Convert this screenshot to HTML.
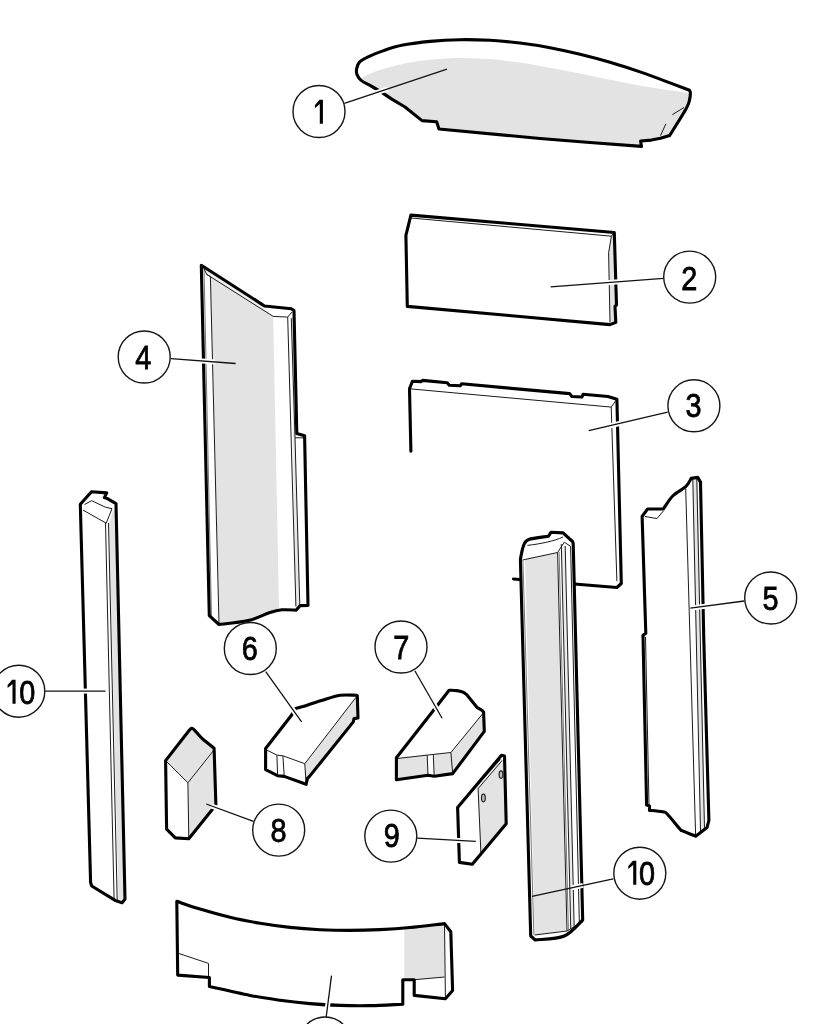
<!DOCTYPE html>
<html><head><meta charset="utf-8">
<style>
html,body{margin:0;padding:0;background:#fff;width:828px;height:1024px;overflow:hidden}
svg{display:block;filter:blur(0.35px)}
.o{fill:#fff;stroke:none}
.on{fill:none;stroke:#000;stroke-width:3.1;stroke-linejoin:round;stroke-linecap:round}
.t{fill:none;stroke:#1a1a1a;stroke-width:1;stroke-linejoin:round}
.tg{fill:none;stroke:#777;stroke-width:1;stroke-linejoin:round}
.g{fill:#e3e3e3;stroke:none}
.c{fill:#fff;stroke:#151515;stroke-width:1.4}
.l{fill:none;stroke:#111;stroke-width:1.3}
.lw{fill:none;stroke:#fff;stroke-width:5;stroke-linecap:butt}
text{font-family:"Liberation Sans",sans-serif;font-size:34px;fill:#000;stroke:#000;stroke-width:0.8}
</style></head>
<body>
<svg width="828" height="1024" viewBox="0 0 828 1024">
<path class="o" d="M376.9,89.3 C375.8,88.7 372.7,86.9 370.1,85.4 C367.5,84 363.6,82.4 361.4,80.6 C359.2,78.8 357.9,76.7 357.1,74.8 C356.3,72.9 356.2,71.1 356.6,69 C357,66.9 357.4,64.3 359.5,62.2 C361.6,60.1 365.2,58.3 369.2,56.4 C373.2,54.5 378,52.5 383.6,50.6 C389.2,48.7 395.3,46.6 403,45.1 C410.7,43.6 420.5,42.3 430,41.4 C439.5,40.5 450,39.9 460,39.7 C470,39.5 480,39.8 490,40.3 C500,40.8 510,41.8 520,43 C530,44.2 540,45.8 550,47.7 C560,49.6 570,51.8 580,54.2 C590,56.6 600,59.3 610,62.3 C620,65.2 630,68.5 640,71.9 C650,75.3 661.8,79.8 670,82.9 C678.2,86 686.2,89.1 689.5,90.3 C689.6,90.8 690.4,91.4 690.4,93 C690.4,94.6 690.2,97.3 689.5,100 C688.8,102.7 689.3,103.1 686,109 C682.7,114.9 672.3,131.2 669.6,135.6 L660.5,138.3 L651.4,140.1 L640.6,141 L641.5,146.4 L590,142.5 L540,138.5 L439,129 L436.6,121.8 L422,120.6 L405,107 L391.4,98.9 L383.6,93.6 L376.9,89.3 Z"/>
<path class="g" d="M363.4,76.7 C365.2,75.9 369,73.7 374,71.9 C379,70.2 385.6,68.1 393.3,66.2 C401,64.3 410.6,62.1 420,60.8 C429.4,59.5 440,58.6 450,58.2 C460,57.8 470,58.1 480,58.6 C490,59.1 500,60.1 510,61.3 C520,62.5 530,64.2 540,65.9 C550,67.6 560,69.6 570,71.6 C580,73.6 590,75.7 600,77.7 C610,79.7 620,81.9 630,83.8 C640,85.7 651,87.6 660,89 C669,90.4 679.2,91.5 684,92.3 C688.8,93.1 688.2,93.7 689,94 L688.6,103 L685,110.2 L669.6,135.6 L660.5,138.3 L651.4,140.1 L640.6,141 L641.5,146.4 L590,142.5 L540,138.5 L439,129 L436.6,121.8 L422,120.6 L405,107 L391.4,98.9 L383.6,93.6 L376.9,89.3 L361.4,80.6 Z"/>
<path class="on" d="M376.9,89.3 C375.8,88.7 372.7,86.9 370.1,85.4 C367.5,84 363.6,82.4 361.4,80.6 C359.2,78.8 357.9,76.7 357.1,74.8 C356.3,72.9 356.2,71.1 356.6,69 C357,66.9 357.4,64.3 359.5,62.2 C361.6,60.1 365.2,58.3 369.2,56.4 C373.2,54.5 378,52.5 383.6,50.6 C389.2,48.7 395.3,46.6 403,45.1 C410.7,43.6 420.5,42.3 430,41.4 C439.5,40.5 450,39.9 460,39.7 C470,39.5 480,39.8 490,40.3 C500,40.8 510,41.8 520,43 C530,44.2 540,45.8 550,47.7 C560,49.6 570,51.8 580,54.2 C590,56.6 600,59.3 610,62.3 C620,65.2 630,68.5 640,71.9 C650,75.3 661.8,79.8 670,82.9 C678.2,86 686.2,89.1 689.5,90.3 C689.6,90.8 690.4,91.4 690.4,93 C690.4,94.6 690.2,97.3 689.5,100 C688.8,102.7 689.3,103.1 686,109 C682.7,114.9 672.3,131.2 669.6,135.6 L660.5,138.3 L651.4,140.1 L640.6,141 L641.5,146.4 L590,142.5 L540,138.5 L439,129 L436.6,121.8 L422,120.6 L405,107 L391.4,98.9 L383.6,93.6 L376.9,89.3 Z"/>
<path class="t" d="M672.3,114.7 L684,107.5 M660.5,135.6 L665.9,123.8"/>
<path class="o" d="M410.9,215.1 L614.3,232.5 L616.5,305 L615,306.4 L615.8,322.4 L610,324.6 L407.3,306.4 L405.9,235.4 Z"/>
<path class="g" d="M611.4,236.2 L614.5,234 L616.5,305 L615,306.4 L615.8,322.4 L610,322.4 L608.6,252.8 Z"/>
<path class="t" d="M411,218 L611.4,236.2 L608.6,252.8 L610,322.4 M611.4,236.2 L614.3,232.5"/>
<path class="on" d="M410.9,215.1 L614.3,232.5 L616.5,305 L615,306.4 L615.8,322.4 L610,324.6 L407.3,306.4 L405.9,235.4 Z"/>
<path class="on" d="M410.9,451.2 L409.5,388.8 L412.4,381.3 L421,381.6 L422.5,380.4 L447.2,382.8 L449.3,385.2 L460.2,385.7 L461.7,383.8 L569.7,393.6 L571.9,396.5 L582,397 L583.1,394.3 L607.9,396.5 L616.9,399.2 L621.3,583.5 L616.9,587.5 L513.5,579"/>
<path class="t" d="M409.5,388.8 L611.2,407.1 L616.9,581.2 M611.2,407.1 L616.9,399.2"/>
<path class="o" d="M201.3,265.2 L261.6,304.1 L264.4,306 L291.3,308.8 L294,310.6 L296.8,433.5 L304.6,435.8 L308,605.5 L300.2,605.6 L296,610.2 C293.7,610.1 286.3,609.4 282,609.8 C277.7,610.2 275.6,610.6 270,612.4 C264.4,614.2 256.8,618.6 248.3,620.6 C239.8,622.6 223.9,623.9 219,624.5 L209.3,615.7 Z"/>
<path fill="#efefef" d="M204,268.5 L262.3,303.7 L263,305.9 L273.2,316.4 L206.6,274.3 Z"/>
<path class="g" d="M210.6,277 L273.2,316.4 L279,609.5 C273.9,611.2 258.2,617.5 248.3,619.8 C238.4,622.1 224.3,622.9 219.5,623.5 Z"/>
<path class="tg" d="M204,268.5 L211.5,618"/>
<path fill="#e8e8e8" d="M291.3,318.2 L293.5,314 L296.8,433.5 L295,437.8 L299.8,605.5 L295.5,608 Z"/>
<path class="t" d="M204,268.5 L206.6,274.3 L273.2,316.4 L287.7,317.1 L292,312 M206.6,274.3 L210.4,276.6 L219,623.6 M287.7,317.1 L295.9,606.4 M295,437.8 L299.8,605.5 M295,437.8 L304,437.8 M291.3,318.2 L295,437.8"/>
<path class="on" d="M201.3,265.2 L261.6,304.1 L264.4,306 L291.3,308.8 L294,310.6 L296.8,433.5 L304.6,435.8 L308,605.5 L300.2,605.6 L296,610.2 C293.7,610.1 286.3,609.4 282,609.8 C277.7,610.2 275.6,610.6 270,612.4 C264.4,614.2 256.8,618.6 248.3,620.6 C239.8,622.6 223.9,623.9 219,624.5 L209.3,615.7 Z"/>
<path class="o" d="M642.1,516.4 L647.6,509 L663.4,509 C665,506.8 669,499.7 672.7,496 C676.4,492.3 682.6,489.6 685.7,486.7 C688.8,483.8 690.3,479.8 691.2,478.4 L697.7,477.4 L700.5,482.1 L703.8,640 L708.9,820.4 L707,827.6 L695.7,836.2 C693.5,835.3 685.2,832 682.6,830.8 C680,829.6 682.5,831.8 679.9,829 C677.3,826.2 670.1,816.9 667.2,814 C664.3,811.1 665.6,812.4 662.6,811.8 C659.6,811.2 651.7,810.6 649.5,810.4 L649.5,805.9 L646.6,805 L643,635.2 L645.8,633.3 Z"/>
<path class="t" d="M644.8,516.4 L656.9,518.6 L663.4,511 M645.5,637 L649,805"/>
<path class="t" d="M685.7,488.6 L695.6,834.8"/>
<path fill="#e6e6e6" d="M692.8,479.5 L697.5,479 L704.5,829 L700.5,831 Z"/>
<path class="t" d="M692.8,479.5 L700.5,831 M696.8,479 L704.5,829"/>
<path class="on" d="M642.1,516.4 L647.6,509 L663.4,509 C665,506.8 669,499.7 672.7,496 C676.4,492.3 682.6,489.6 685.7,486.7 C688.8,483.8 690.3,479.8 691.2,478.4 L697.7,477.4 L700.5,482.1 L703.8,640 L708.9,820.4 L707,827.6 L695.7,836.2 C693.5,835.3 685.2,832 682.6,830.8 C680,829.6 682.5,831.8 679.9,829 C677.3,826.2 670.1,816.9 667.2,814 C664.3,811.1 665.6,812.4 662.6,811.8 C659.6,811.2 651.7,810.6 649.5,810.4 L649.5,805.9 L646.6,805 L643,635.2 L645.8,633.3 Z"/>
<path class="o" d="M80.3,504.3 L91.5,491.7 L106.7,492.9 L104.4,497.6 L107.9,498.8 L116,503.6 L125,899.1 L122.1,902.8 L115.6,900.6 L91.7,886 L90.6,882.5 Z"/>
<path class="g" d="M109.1,523 L114.2,508 L116.5,506 L124.5,899 L118.5,900 Z"/>
<path class="t" d="M83,510.1 L106.2,523.2 L112,508.7 M84.5,504.5 L91.7,500.7 L105.5,507.2 L112,508.7 M105.5,523 L114.1,900 M108.5,523 L117.2,900 M114.5,900 L122,902"/>
<path class="on" d="M80.3,504.3 L91.5,491.7 L106.7,492.9 L104.4,497.6 L107.9,498.8 L116,503.6 L125,899.1 L122.1,902.8 L115.6,900.6 L91.7,886 L90.6,882.5 Z"/>
<path class="o" d="M520.4,559.3  C520.9,557.1 522,549.4 523.4,546.1 C524.8,542.8 524.5,541.1 528.7,539.5 C532.9,537.9 545.2,536.8 548.5,536.2 L551.1,532.2 L563,532.9 L572.5,541.5 L573.2,543.4 L582.7,920 C579.6,922.7 572.2,932.7 564.3,936 C556.4,939.3 540.1,939.3 535.3,940 L530.7,936 Z"/>
<path class="g" d="M525.0,559 L557.6,552.5 L567.0,931 L534.7,935 Z"/>
<path fill="#ececec" d="M561.4,546 L565.2,546 L574.2,928 L570.8,929 Z"/>
<path class="t" d="M522.5,560 L557.6,552.5 L564.3,542.1 L570.9,546.7 M534.7,935 L567.0,931 L583,921.5"/>
<path class="t" d="M557.6,552.5 L567.0,931 M561.3,544 L570.8,929 M565.2,546 L574.2,928 M570.6,547 L579.4,925"/>
<path class="tg" d="M559.1,552 L568.4,930 M522.9,560 L533.9,935"/>
<path class="t" d="M527.4,545.4 C540,544 555,541 563,536.9"/>
<path class="on" d="M520.4,559.3  C520.9,557.1 522,549.4 523.4,546.1 C524.8,542.8 524.5,541.1 528.7,539.5 C532.9,537.9 545.2,536.8 548.5,536.2 L551.1,532.2 L563,532.9 L572.5,541.5 L573.2,543.4 L582.7,920 C579.6,922.7 572.2,932.7 564.3,936 C556.4,939.3 540.1,939.3 535.3,940 L530.7,936 Z"/>
<path class="o" d="M291.5,715.2 L295.5,708.6 L302.8,706.6 C305.9,705.6 315.2,702.5 321.4,700.6 C327.6,698.7 334.1,696.2 340,695.3 C345.9,694.4 353.8,695.3 356.6,695.3 L357.3,695.8 L358,717.9 L354,718.6 L353.3,721.9 L309.5,776.4 L307.5,778.3 L306.1,784.3 L284.2,776.4 L277.6,775.7 L265.6,769.7 L265.6,748.5 Z"/>
<path class="g" d="M304.8,763.7 L356,697.3 L358,717.9 L354,718.6 L353.3,721.9 L309.5,776.4 L307.5,778.3 L306.1,784.3 Z"/>
<path class="t" d="M266.3,749.8 L276.9,755.1 L282.9,755.8 L304.8,763.7 L356,697.3 M276.9,755.1 L277.6,775 M282.9,755.8 L284.2,776 M304.8,763.7 L306.1,784"/>
<path class="on" d="M291.5,715.2 L295.5,708.6 L302.8,706.6 C305.9,705.6 315.2,702.5 321.4,700.6 C327.6,698.7 334.1,696.2 340,695.3 C345.9,694.4 353.8,695.3 356.6,695.3 L357.3,695.8 L358,717.9 L354,718.6 L353.3,721.9 L309.5,776.4 L307.5,778.3 L306.1,784.3 L284.2,776.4 L277.6,775.7 L265.6,769.7 L265.6,748.5 Z"/>
<path class="o" d="M396.4,757.7 L437.7,705 L449.1,690.2 C450.4,690.3 454.4,690.3 456.7,690.6 C459,690.9 461.4,691.5 463,692.2 C464.6,692.9 466,694.2 466.6,694.6 L477.1,707.5 C477.9,708 480.7,709.5 481.8,710.2 C482.9,711 483.3,711.7 483.6,712 L484.3,731.4 L452.7,773.6 L434.2,776.2 L428,775.3 L396.4,779.7 Z"/>
<path class="g" d="M396.4,758.6 L427.2,755.1 L428,775.3 L396.4,779.7 Z M433.3,755.1 L450.9,752.5 L452.7,773.6 L434.2,776.2 Z M450.9,752.5 L482.6,713.8 L484.3,731.4 L452.7,773.6 Z"/>
<path class="t" d="M396.4,758.6 L427.2,755.1 L450.9,752.5 L482.6,713.8 M427.2,755.1 L428,775.3 M433.3,755.1 L434.2,776.2 M450.9,752.5 L452.7,773.6"/>
<path class="on" d="M396.4,757.7 L437.7,705 L449.1,690.2 C450.4,690.3 454.4,690.3 456.7,690.6 C459,690.9 461.4,691.5 463,692.2 C464.6,692.9 466,694.2 466.6,694.6 L477.1,707.5 C477.9,708 480.7,709.5 481.8,710.2 C482.9,711 483.3,711.7 483.6,712 L484.3,731.4 L452.7,773.6 L434.2,776.2 L428,775.3 L396.4,779.7 Z"/>
<path class="o" d="M165.6,760.6 L189.3,730.2 C189.7,729.9 190.7,728.5 191.5,728.4 C192.3,728.3 192.2,727.9 194,729.6 C195.8,731.3 200,736.4 202.3,738.6 C204.6,740.8 205.6,741.4 207.6,743 C209.6,744.6 213,747.4 214.1,748.3 L215.9,805 L188.8,838.8 L175.3,837.9 L166.6,829.2 Z"/>
<path class="g" d="M165.6,760.6 L191.5,728.4 L202.3,738.6 L207.6,743 L214.1,748.3 L187.9,782.8 Z M187.9,782.8 L213.9,750 L215.9,805 L188.8,838.8 Z"/>
<path class="t" d="M166.6,761.5 L187.9,782.8 L213.9,750 M187.9,782.8 L188.8,837.9"/>
<path class="on" d="M165.6,760.6 L189.3,730.2 C189.7,729.9 190.7,728.5 191.5,728.4 C192.3,728.3 192.2,727.9 194,729.6 C195.8,731.3 200,736.4 202.3,738.6 C204.6,740.8 205.6,741.4 207.6,743 C209.6,744.6 213,747.4 214.1,748.3 L215.9,805 L188.8,838.8 L175.3,837.9 L166.6,829.2 Z"/>
<path class="o" d="M457.6,807.4 L501.5,755.3 L504.5,755.9 L506.2,823.8 L472.3,864.2 L459.4,862.4 Z"/>
<path fill="#ececec" d="M466,797.5 L501.5,755.3 L503,757 L502.1,760.5 L478.1,788.7 L473.4,789.8 Z"/>
<path class="g" d="M478.1,788.7 L502.1,760.5 L505,757 L506.2,823.8 L481,855.4 Z"/>
<path class="t" d="M473.4,789.8 L500.4,759.4 M478.1,788.7 L502.1,760.5 M478.1,788.7 L481,855.4"/>
<ellipse cx="483.4" cy="798" rx="1.9" ry="3.8" fill="#bdbdbd" stroke="#222" stroke-width="1.2"/>
<ellipse cx="501" cy="774.6" rx="1.9" ry="3.8" fill="#bdbdbd" stroke="#222" stroke-width="1.2"/>
<path class="on" d="M457.6,807.4 L501.5,755.3 L504.5,755.9 L506.2,823.8 L472.3,864.2 L459.4,862.4 Z"/>
<path class="o" d="M176.8,901.3 C180.7,902.6 191.1,906.4 200,909.1 C208.9,911.8 220,914.9 230,917.3 C240,919.7 250,921.6 260,923.3 C270,925 280,926.3 290,927.4 C300,928.5 310,929.2 320,929.7 C330,930.2 340,930.4 350,930.4 C360,930.4 370,930.1 380,929.6 C390,929.1 399.2,928.5 410,927.5 C420.8,926.5 438.8,924.2 444.5,923.6 L450.8,931.7 L452.6,990.5 L445.4,998.7 L414.2,995.4 L414.2,979.7 L402.8,979.7 L402.8,1004.2 C397.3,1004.4 380.5,1005.4 370,1005.6 C359.5,1005.8 350,1005.7 340,1005.4 C330,1005.1 320,1004.5 310,1003.6 C300,1002.7 290,1001.6 280,1000.2 C270,998.8 261.8,997.7 250,995.4 C238.2,993.1 216.2,988.1 209.4,986.6 L209.4,977.5 L177.7,975.1 Z"/>
<path class="g" d="M404.3,928.2 C406.9,928 413.3,927.4 420,926.8 C426.7,926.2 440.4,924.9 444.5,924.5 L444.5,977 L414.2,979.7 L404.3,979.7 Z"/>
<path class="t" d="M178.6,953.4 L208.5,963.4 L208.5,977 M414.6,979.7 L444.5,977 M444.5,924.5 L445.4,996.9"/>
<path class="on" d="M176.8,901.3 C180.7,902.6 191.1,906.4 200,909.1 C208.9,911.8 220,914.9 230,917.3 C240,919.7 250,921.6 260,923.3 C270,925 280,926.3 290,927.4 C300,928.5 310,929.2 320,929.7 C330,930.2 340,930.4 350,930.4 C360,930.4 370,930.1 380,929.6 C390,929.1 399.2,928.5 410,927.5 C420.8,926.5 438.8,924.2 444.5,923.6 L450.8,931.7 L452.6,990.5 L445.4,998.7 L414.2,995.4 L414.2,979.7 L402.8,979.7 L402.8,1004.2 C397.3,1004.4 380.5,1005.4 370,1005.6 C359.5,1005.8 350,1005.7 340,1005.4 C330,1005.1 320,1004.5 310,1003.6 C300,1002.7 290,1001.6 280,1000.2 C270,998.8 261.8,997.7 250,995.4 C238.2,993.1 216.2,988.1 209.4,986.6 L209.4,977.5 L177.7,975.1 Z"/>
<path class="lw" d="M373,93.8 L388,88.8"/>
<path class="l" d="M344.3,103.3 L447,69.2"/>
<path class="lw" d="M622,281.5 L606,282.7"/>
<path class="l" d="M663.5,278.4 L550.6,286.9"/>
<path class="lw" d="M625,422.2 L608,426.2"/>
<path class="l" d="M667.6,412.1 L588.8,430.7"/>
<path class="lw" d="M199,360.7 L215,361.9"/>
<path class="l" d="M170.9,358.6 L235.6,363.5"/>
<path class="lw" d="M707,606 L690.3,608.2"/>
<path class="l" d="M744.2,601 L690.3,608.2"/>
<path class="lw" d="M289.5,705 L299.5,719"/>
<path class="l" d="M265.7,671.6 L301.6,721.9"/>
<path class="lw" d="M430.5,698 L440.8,716"/>
<path class="l" d="M414.8,670.7 L442.1,718.2"/>
<path class="lw" d="M211,805.8 L221,809.4"/>
<path class="l" d="M206.2,804 L253.5,821.4"/>
<path class="lw" d="M453,840.2 L463,840.7"/>
<path class="l" d="M417.2,838.2 L475.8,841.4"/>
<path class="lw" d="M81,691.1 L92,691.1"/>
<path class="l" d="M45.2,691.2 L105.5,691.1"/>
<path class="lw" d="M583,885.4 L572,887.8"/>
<path class="l" d="M613.2,878.9 L532,896.4"/>
<path class="lw" d="M328.9,996 L327.1,1010"/>
<path class="l" d="M331.5,975.7 L326.2,1016.9"/>
<circle class="c" cx="319" cy="111.5" r="26"/>
<circle class="c" cx="689.7" cy="277.1" r="26"/>
<circle class="c" cx="693.9" cy="405.8" r="26"/>
<circle class="c" cx="144.2" cy="357" r="26"/>
<circle class="c" cx="770.7" cy="598" r="26"/>
<circle class="c" cx="250.3" cy="648.5" r="26"/>
<circle class="c" cx="401" cy="647" r="26"/>
<circle class="c" cx="278.7" cy="830.1" r="26"/>
<circle class="c" cx="390.8" cy="836.1" r="26"/>
<circle class="c" cx="18.8" cy="691.2" r="26"/>
<circle class="c" cx="639.8" cy="873.2" r="26"/>
<circle class="c" cx="325" cy="1043" r="26"/>
<g text-anchor="middle">
<path d="M319.8,123.8 L319.8,104 L314.9,108.2 L314.9,105.2 L319.5,99.8 L322.9,99.8 L322.9,123.8 Z" fill="#000"/>
<text x="689.4" y="290" transform="translate(689.4 0) scale(0.85 1) translate(-689.4 0)">2</text>
<text x="693.5" y="417.5" transform="translate(693.5 0) scale(0.85 1) translate(-693.5 0)">3</text>
<text x="143.4" y="368.9" transform="translate(143.4 0) scale(0.85 1) translate(-143.4 0)">4</text>
<text x="770.6" y="609.8" transform="translate(770.6 0) scale(0.85 1) translate(-770.6 0)">5</text>
<text x="249.8" y="660.3" transform="translate(249.8 0) scale(0.85 1) translate(-249.8 0)">6</text>
<text x="401.2" y="659.2" transform="translate(401.2 0) scale(0.85 1) translate(-401.2 0)">7</text>
<text x="278.6" y="841.7" transform="translate(278.6 0) scale(0.85 1) translate(-278.6 0)">8</text>
<text x="391.7" y="847.2" transform="translate(391.7 0) scale(0.85 1) translate(-391.7 0)">9</text>
<text x="27.2" y="703.7" transform="translate(27.2 0) scale(0.85 1) translate(-27.2 0)">0</text>
<text x="647.1" y="884.7" transform="translate(647.1 0) scale(0.85 1) translate(-647.1 0)">0</text>
<path d="M12.5,703.7 L12.5,683.9 L7.6,688.1 L7.6,685.1 L12.2,679.7 L15.6,679.7 L15.6,703.7 Z" fill="#000"/>
<path d="M633.2,884.7 L633.2,864.9 L628.3,869.1 L628.3,866.1 L632.9,860.7 L636.3,860.7 L636.3,884.7 Z" fill="#000"/>
</g>
</svg>
</body></html>
